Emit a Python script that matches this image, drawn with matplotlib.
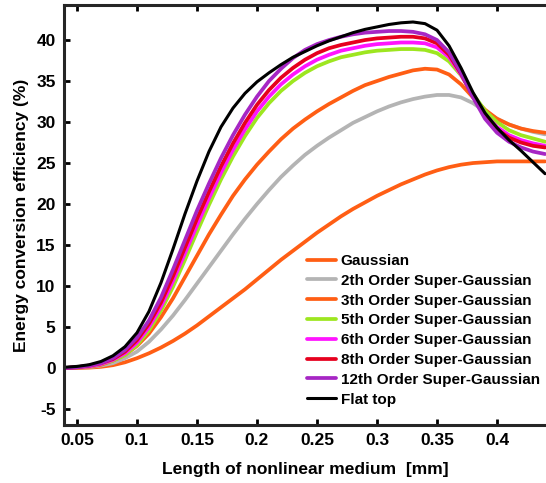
import numpy as np
import matplotlib
matplotlib.use("Agg")
import matplotlib.pyplot as plt

plt.rcParams["font.family"] = ["Liberation Sans", "DejaVu Sans"]
plt.rcParams["font.weight"] = "bold"
plt.rcParams["axes.unicode_minus"] = False

# Length of nonlinear medium (mm)
length_mm = [0.04, 0.05, 0.06, 0.07, 0.08, 0.09, 0.10, 0.11, 0.12, 0.13, 0.14,
             0.15, 0.16, 0.17, 0.18, 0.19, 0.20, 0.21, 0.22, 0.23, 0.24, 0.25,
             0.26, 0.27, 0.28, 0.29, 0.30, 0.31, 0.32, 0.33, 0.34, 0.35, 0.36,
             0.37, 0.38, 0.39, 0.40, 0.41, 0.42, 0.43, 0.44]

# Energy conversion efficiency (%) per beam profile
gaussian = [0.0, 0.0, 0.05, 0.15, 0.35, 0.7, 1.2, 1.8, 2.5, 3.3, 4.2,
            5.2, 6.3, 7.4, 8.5, 9.6, 10.8, 12.0, 13.2, 14.3, 15.4, 16.5,
            17.5, 18.5, 19.4, 20.2, 21.0, 21.7, 22.4, 23.0, 23.6, 24.1, 24.5,
            24.8, 25.0, 25.1, 25.2, 25.2, 25.2, 25.2, 25.2]
sg2 = [0.0, 0.05, 0.1, 0.3, 0.6, 1.2, 2.0, 3.2, 4.7, 6.4, 8.3,
       10.3, 12.3, 14.3, 16.3, 18.2, 20.0, 21.7, 23.3, 24.7, 26.0, 27.1,
       28.1, 29.0, 29.9, 30.6, 31.3, 31.9, 32.4, 32.8, 33.1, 33.3, 33.3,
       33.0, 32.3, 31.3, 30.4, 29.7, 29.2, 28.8, 28.5]
sg3 = [0.0, 0.05, 0.15, 0.4, 0.9, 1.6, 2.7, 4.2, 6.2, 8.5, 11.1,
       13.7, 16.3, 18.7, 21.0, 23.0, 24.8, 26.4, 27.9, 29.2, 30.3, 31.3,
       32.2, 33.0, 33.8, 34.5, 35.0, 35.5, 35.9, 36.3, 36.5, 36.4, 35.8,
       34.6, 33.0, 31.5, 30.4, 29.7, 29.2, 28.9, 28.7]
sg5 = [0.0, 0.1, 0.2, 0.5, 0.9, 1.6, 2.8, 4.6, 7.0, 9.9, 13.2,
       16.6, 19.9, 23.0, 25.8, 28.3, 30.5, 32.3, 33.8, 35.0, 36.0, 36.8,
       37.4, 37.9, 38.2, 38.5, 38.7, 38.8, 38.9, 38.9, 38.8, 38.4, 37.4,
       35.7, 33.4, 31.4, 30.0, 29.0, 28.4, 28.0, 27.6]
sg6 = [0.0, 0.1, 0.2, 0.5, 1.0, 1.8, 3.1, 5.0, 7.5, 10.6, 14.0,
       17.4, 20.7, 23.8, 26.6, 29.1, 31.3, 33.1, 34.6, 35.8, 36.8, 37.6,
       38.2, 38.7, 39.0, 39.3, 39.5, 39.6, 39.7, 39.7, 39.6, 39.1, 37.9,
       35.8, 33.2, 30.9, 29.4, 28.4, 27.8, 27.4, 27.1]
sg8 = [0.0, 0.1, 0.3, 0.6, 1.1, 2.0, 3.4, 5.4, 8.0, 11.2, 14.7,
       18.2, 21.5, 24.6, 27.4, 29.9, 32.1, 33.9, 35.4, 36.6, 37.6, 38.4,
       39.0, 39.4, 39.7, 40.0, 40.2, 40.3, 40.4, 40.4, 40.2, 39.6, 38.2,
       35.9, 33.1, 30.7, 29.1, 28.1, 27.5, 27.1, 26.9]
sg12 = [0.0, 0.1, 0.3, 0.6, 1.2, 2.2, 3.7, 5.8, 8.6, 12.0, 15.6,
        19.2, 22.5, 25.6, 28.4, 30.9, 33.1, 35.0, 36.5, 37.8, 38.8, 39.5,
        40.0, 40.4, 40.7, 40.9, 41.0, 41.1, 41.1, 41.0, 40.7, 40.0, 38.5,
        36.0, 33.0, 30.4, 28.7, 27.6, 26.9, 26.4, 26.1]
flat_top = [0.1, 0.2, 0.4, 0.8, 1.5, 2.6, 4.3, 6.9, 10.4, 14.5, 18.8,
            22.8, 26.4, 29.4, 31.7, 33.5, 34.9, 36.0, 37.0, 37.9, 38.6, 39.3,
            39.9, 40.4, 40.9, 41.3, 41.6, 41.9, 42.1, 42.2, 42.0, 41.2, 39.3,
            36.6, 33.6, 31.1, 29.3, 27.8, 26.5, 25.1, 23.7]

labels = ["Gaussian", "2th Order Super-Gaussian", "3th Order Super-Gaussian",
          "5th Order Super-Gaussian", "6th Order Super-Gaussian",
          "8th Order Super-Gaussian", "12th Order Super-Gaussian", "Flat top"]
colors = ["#ff5e14", "#b4b4b4", "#ff5e14", "#9de620", "#ff14ff",
          "#e6001e", "#a626c4", "#000000"]
series = [gaussian, sg2, sg3, sg5, sg6, sg8, sg12, flat_top]

fig = plt.figure(figsize=(5.46, 4.83), dpi=100)
ax = fig.add_axes([0.1172, 0.120, 0.8828, 0.8696])

for vals, col, lab in zip(series, colors, labels):
    lw = 2.2 if col == "#000000" else 2.7
    ax.plot(length_mm, vals, color=col, lw=lw, label=lab,
            solid_joinstyle="round", solid_capstyle="round")

ax.set_xlim(0.0392, 0.4408)
ax.set_ylim(-6.95, 44.27)
ax.set_xticks([0.05, 0.1, 0.15, 0.2, 0.25, 0.3, 0.35, 0.4])
ax.set_xticklabels(["0.05", "0.1", "0.15", "0.2", "0.25", "0.3", "0.35", "0.4"])
ax.set_yticks(np.arange(-5, 41, 5))
ax.tick_params(direction="in", length=4, width=2, labelsize=12.5, top=True,
               pad=6)
for side in ["left", "bottom", "top"]:
    ax.spines[side].set_linewidth(2.2)
    ax.spines[side].set_color("#262626")
ax.spines["right"].set_visible(False)

ax.set_xlabel("Length of nonlinear medium  [mm]", fontsize=12.5,
              fontweight="bold", labelpad=10)
ax.set_ylabel("Energy conversion efficiency (%)", fontsize=12.5,
              fontweight="bold", labelpad=5)

leg = ax.legend(loc="upper left", bbox_to_anchor=(307 / 546, 1 - 254 / 483),
                bbox_transform=fig.transFigure, frameon=False, fontsize=11,
                borderpad=0, borderaxespad=0, handlelength=1.9,
                handletextpad=0.3, labelspacing=0.38)

fig.savefig("out.png", dpi=100)
